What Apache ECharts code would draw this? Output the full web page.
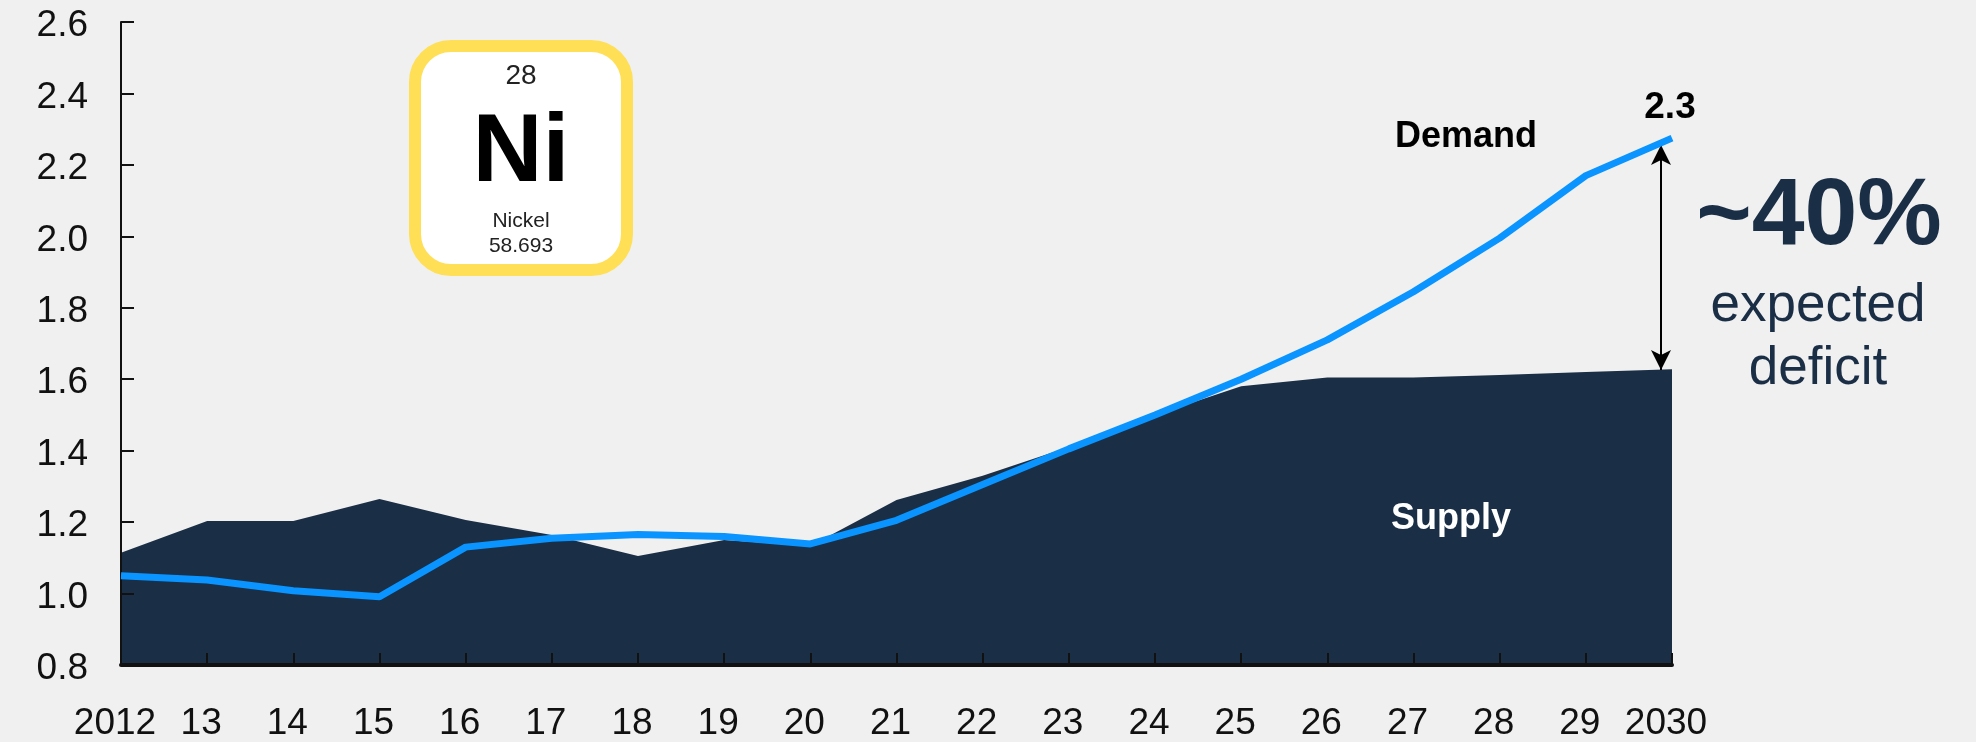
<!DOCTYPE html>
<html>
<head>
<meta charset="utf-8">
<style>
  html, body { margin: 0; padding: 0; background: #f0f0f0; }
  #nickelChart { width: 1976px; height: 742px; }
</style>
</head>
<body>
<div id="nickelChart"></div>
<script src="https://cdn.jsdelivr.net/npm/echarts@6/dist/echarts.min.js"></script>
<script>
const years = ["2012", "13", "14", "15", "16", "17", "18", "19", "20", "21", "22", "23", "24", "25", "26", "27", "28", "29", "2030"];
const supply = [1.114, 1.203, 1.203, 1.265, 1.206, 1.164, 1.105, 1.15, 1.133, 1.262, 1.33, 1.41, 1.5, 1.58, 1.605, 1.605, 1.612, 1.62, 1.628];
const demand = [1.05, 1.038, 1.008, 0.991, 1.13, 1.155, 1.165, 1.16, 1.139, 1.205, 1.305, 1.405, 1.5, 1.6, 1.71, 1.845, 1.995, 2.17, 2.275];

const font = "Liberation Sans";
const navy = "#1a2e46";

let myChart = echarts.init(document.getElementById("nickelChart"));

// plain text helper for the annotations
function label(text, x, y, size, color, weight) {
  return {
    type: "text",
    x: x,
    y: y,
    z: 20,
    style: {
      text: text,
      fontFamily: font,
      fontSize: size,
      fontWeight: weight || "normal",
      fill: color,
      align: "center",
      verticalAlign: "middle",
    },
  };
}

myChart.setOption({
  backgroundColor: "#f0f0f0",
  animation: false,
  grid: { left: 121, right: 304, top: 22, bottom: 77 },
  xAxis: {
    type: "category",
    data: years,
    boundaryGap: false,
    z: 5,
    axisLine: { lineStyle: { color: "#111", width: 4 } },
    axisTick: { inside: true, length: 12, lineStyle: { color: "#111", width: 2 } },
    axisLabel: {
      interval: 0,
      margin: 40,
      padding: [0, 12, 0, 0],
      fontFamily: font,
      fontSize: 37,
      color: "#111",
    },
    splitLine: { show: false },
  },
  yAxis: {
    type: "value",
    min: 0.8,
    max: 2.6,
    interval: 0.2,
    z: 5,
    axisLine: { show: true, lineStyle: { color: "#111", width: 2 } },
    axisTick: { show: true, inside: true, length: 13, lineStyle: { color: "#111", width: 2 } },
    axisLabel: {
      margin: 33,
      // short line box hung from the tick, drops the text a few px like the original
      verticalAlign: "top",
      lineHeight: 8,
      fontFamily: font,
      fontSize: 37,
      color: "#111",
      formatter: (v) => v.toFixed(1),
    },
    splitLine: { show: false },
  },
  series: [
    {
      name: "Supply",
      type: "line",
      data: supply,
      showSymbol: false,
      z: 2,
      lineStyle: { width: 0 },
      areaStyle: { color: navy, opacity: 1 },
    },
    {
      name: "Demand",
      type: "line",
      data: demand,
      showSymbol: false,
      z: 6,
      lineStyle: { color: "#0a94ff", width: 7 },
      // deficit arrow
      markLine: {
        silent: true,
        animation: false,
        symbol: ["arrow", "arrow"],
        symbolSize: [15, 20],
        label: { show: false },
        lineStyle: { color: "#000", width: 2, type: "solid" },
        data: [[{ x: 1661, y: 145 }, { x: 1661, y: 370 }]],
      },
    },
  ],
  graphic: [
    {
      type: "rect",
      z: 10,
      shape: { x: 415, y: 46, width: 212, height: 224, r: 36 },
      style: { fill: "#fff", stroke: "#ffdf56", lineWidth: 12 },
    },
    label("28", 521, 76, 28, "#222"),
    label("Ni", 521, 154, 97, "#000", "bold"),
    label("Nickel", 521, 221, 21, "#222"),
    label("58.693", 521, 246, 21, "#222"),
    label("Demand", 1466, 137, 36, "#000", "bold"),
    label("2.3", 1670, 108, 37, "#000", "bold"),
    label("Supply", 1451, 519, 36, "#fff", "bold"),
    label("~40%", 1819, 218, 95, navy, "bold"),
    label("expected", 1818, 306, 53, navy),
    label("deficit", 1818, 369, 53, navy),
  ],
});
</script>
</body>
</html>
